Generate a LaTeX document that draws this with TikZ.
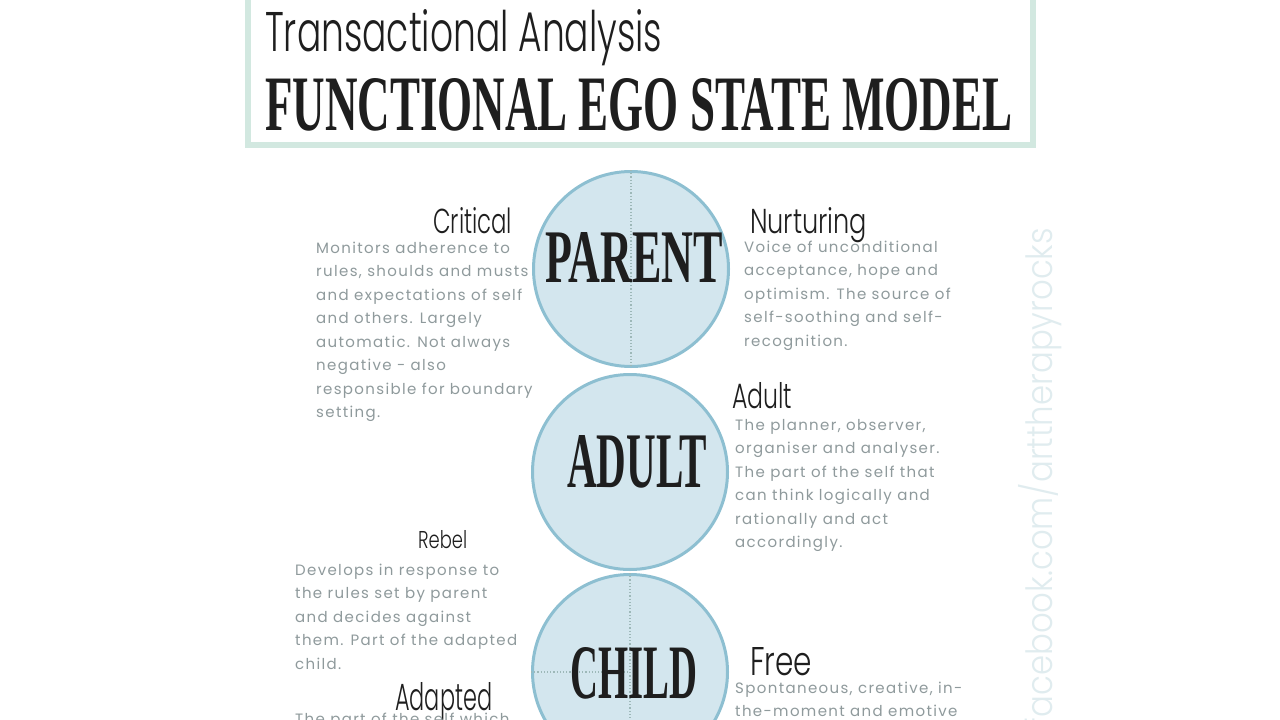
\documentclass[tikz,border=0pt]{standalone}
\usepackage{fontspec}
\setmainfont{Poppins}
\newfontfamily\bodyfont[LetterSpace=9]{Poppins}
\newfontfamily\handfont[UprightFont=* Light]{Poppins}
\newfontfamily\signfont{Liberation Serif}
\usepackage{xcolor}
\usepackage{tikz}
\usetikzlibrary{positioning}
\definecolor{circlefill}{HTML}{D3E6EE}
\definecolor{circleline}{HTML}{8DBFD1}
\definecolor{boxline}{HTML}{D2E8E0}
\definecolor{bodygray}{HTML}{8F9A9C}
\definecolor{inkblack}{HTML}{1E1E1E}
\definecolor{dotline}{HTML}{9DB8B8}
\definecolor{markblue}{HTML}{E0ECEF}
\tikzset{
    egostate/.style={circle, draw=circleline, line width=3pt, fill=circlefill, minimum size=195pt, inner sep=0pt},
    statename/.style={font=\signfont\bfseries, text=inkblack, anchor=base west, inner sep=0pt},
    tag/.style={font=\handfont, text=inkblack, anchor=base west, inner sep=0pt},
    desc/.style={font=\bodyfont\fontsize{15}{23.5}\selectfont, text=bodygray, align=left, anchor=base west, inner sep=0pt},
    divider/.style={dotted, line width=1.2pt, draw=dotline},
    titlebox/.style={draw=boxline, line width=6pt},
    watermark/.style={font=\handfont, text=markblue, rotate=90, inner sep=0pt}
}

\begin{document}
\begin{tikzpicture}[x=1pt, y=-1pt]
        \useasboundingbox (0,0) rectangle (1280,720);
        \clip (0,0) rectangle (1280,720);
        \fill[white] (0,0) rectangle (1280,720);

        % title
        \draw[titlebox] (248,-20) rectangle (1033,145);
        \node[tag] (Subtitle) at (265,52) {\resizebox{397pt}{42pt}{Transactional Analysis}};
        \node[statename] (Title) at (265,130) {\resizebox{747pt}{52pt}{FUNCTIONAL EGO STATE MODEL}};

        % the three ego states
        \node[egostate] (ParentState) at (631,269) {};
        \node[egostate] (AdultState) at (630,472) {};
        \node[egostate] (ChildState) at (630,672) {};

        \draw[divider] (ParentState.north) -- (ParentState.south);
        \draw[divider] (ChildState.north) -- (ChildState.south);
        \draw[divider] (ChildState.west) -- (ChildState.center);

        \node[statename] (ParentName) at (545,282) {\resizebox{178pt}{50pt}{PARENT}};
        \node[statename] (AdultName) at (567,487) {\resizebox{140pt}{52pt}{ADULT}};
        \node[statename] (ChildName) at (570,698) {\resizebox{127pt}{51pt}{CHILD}};

        % parent (text nodes sit on their last line)
        \node[tag] (CriticalTag) at (433,233) {\resizebox{79pt}{26pt}{Critical}};
        \node[desc] (CriticalText) at (316,417.5) {Monitors adherence to\\rules, shoulds and musts\\and expectations of self\\and others. Largely\\automatic. Not always\\negative - also\\responsible for boundary\\setting.};
        \node[tag] (NurturingTag) at (750,233) {\resizebox{117pt}{26pt}{Nurturing}};
        \node[desc] (NurturingText) at (744,346) {Voice of unconditional\\acceptance, hope and\\optimism. The source of\\self-soothing and self-\\recognition.};

        % adult
        \node[tag] (AdultTag) at (732,408) {\resizebox{60pt}{26pt}{Adult}};
        \node[desc] (AdultText) at (735,547.5) {The planner, observer,\\organiser and analyser.\\The part of the self that\\can think logically and\\rationally and act\\accordingly.};

        % child
        \node[tag] (RebelTag) at (418,548) {\resizebox{49pt}{18pt}{Rebel}};
        \node[desc] (RebelText) at (295,669) {Develops in response to\\the rules set by parent\\and decides against\\them. Part of the adapted\\child.};
        \node[tag] (AdaptedTag) at (395,710) {\resizebox{97pt}{28pt}{Adapted}};
        \node[desc] (AdaptedText) at (295,724) {The part of the self which};
        \node[tag] (FreeTag) at (750,675) {\resizebox{62pt}{28pt}{Free}};
        \node[desc] (FreeText) at (735,716.5) {Spontaneous, creative, in-\\the-moment and emotive};

        \node[watermark] (Credit) at (1040,478) {\resizebox{500pt}{34pt}{facebook.com/arttherapyrocks}};
    \end{tikzpicture}
\end{document}
